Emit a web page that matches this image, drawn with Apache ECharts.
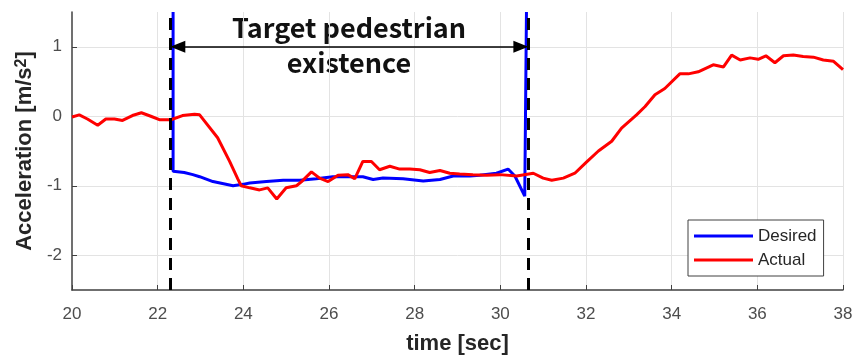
<!DOCTYPE html>
<html>
<head>
<meta charset="utf-8">
<script src="https://cdn.jsdelivr.net/npm/echarts@6/dist/echarts.min.js"></script>
<style>html,body{margin:0;padding:0;background:#fff;}#c{width:859px;height:361px;}</style>
</head>
<body>
<div id="c"></div>
<script>
// time [sec] / acceleration [m/s^2]
var actualT = [20.0,20.17,20.36,20.6,20.79,20.99,21.18,21.41,21.62,21.84,22.04,22.31,22.58,22.86,22.98,23.4,23.68,23.87,23.95,24.15,24.38,24.57,24.78,25.0,25.24,25.36,25.59,25.78,25.98,26.21,26.44,26.6,26.79,26.99,27.18,27.42,27.65,27.89,28.12,28.35,28.59,28.82,29.05,29.36,29.68,29.99,30.38,30.77,31.0,31.2,31.47,31.74,32.01,32.29,32.6,32.83,33.18,33.38,33.61,33.84,34.19,34.39,34.62,34.97,35.21,35.4,35.6,35.83,36.02,36.2,36.41,36.61,36.84,37.07,37.31,37.54,37.78,38.0];
var actualA = [-0.01,0.02,-0.04,-0.13,-0.04,-0.04,-0.06,0.01,0.05,0.0,-0.05,-0.05,0.01,0.03,0.02,-0.31,-0.65,-0.9,-1.0,-1.03,-1.06,-1.03,-1.19,-1.03,-1.0,-0.94,-0.8,-0.89,-0.94,-0.85,-0.84,-0.9,-0.65,-0.65,-0.77,-0.72,-0.76,-0.76,-0.77,-0.81,-0.78,-0.82,-0.83,-0.84,-0.85,-0.84,-0.86,-0.82,-0.89,-0.92,-0.89,-0.82,-0.66,-0.5,-0.36,-0.17,0.02,0.14,0.31,0.40,0.61,0.61,0.64,0.74,0.71,0.88,0.81,0.84,0.82,0.87,0.77,0.87,0.88,0.86,0.85,0.81,0.79,0.67];
var desiredT = [22.36,22.36,22.62,22.82,22.98,23.29,23.76,23.99,24.15,24.54,24.93,25.32,25.7,26.09,26.41,26.79,27.03,27.26,27.73,28.2,28.59,28.9,29.29,29.52,29.91,30.18,30.34,30.57,30.61,30.61];
var desiredA = [1.5,-0.79,-0.81,-0.84,-0.87,-0.94,-1.0,-0.98,-0.96,-0.94,-0.92,-0.92,-0.9,-0.87,-0.87,-0.87,-0.91,-0.89,-0.9,-0.93,-0.91,-0.86,-0.86,-0.85,-0.82,-0.76,-0.86,-1.15,-1.17,1.5];
var yTicks = [-2,-1,0,1];
var markStart = 22.3, markEnd = 30.65, arrowY = 1, arrowHalf = 0.17;

function pairs(a, b){ return a.map(function(v,i){ return [v, b[i]]; }); }

var chart = echarts.init(document.getElementById('c'));
var axisColor = '#404040';
var gridColor = '#e3e3e3';
var dashStyle = { color: '#000', width: 3, type: [12, 8] };
chart.setOption({
  animation: false,
  backgroundColor: '#fff',
  grid: { left: 72, right: 16, top: 12, bottom: 71 },
  xAxis: {
    type: 'value', min: 20, max: 38, interval: 2,
    name: 'time [sec]', nameLocation: 'middle', nameGap: 43,
    nameTextStyle: { fontFamily: 'Arial', fontWeight: 'bold', fontSize: 22, color: '#262626' },
    axisLine: { show: true, onZero: false, lineStyle: { color: axisColor, width: 1.5 } },
    axisTick: { show: true, inside: true, length: 5, lineStyle: { color: axisColor } },
    axisLabel: { margin: 16, fontFamily: 'Arial', fontSize: 17, color: '#4d4d4d' },
    splitLine: { show: true, showMinLine: false, showMaxLine: true, lineStyle: { color: gridColor, width: 1 } }
  },
  yAxis: {
    type: 'value', min: -2.5, max: 1.5,
    name: 'Acceleration [m/s{sup|2}]', nameLocation: 'middle', nameGap: 36, nameRotate: 90,
    nameTextStyle: { fontFamily: 'Arial', fontWeight: 'bold', fontSize: 22, color: '#262626',
      rich: { sup: { fontFamily: 'Arial', fontWeight: 'bold', fontSize: 16, color: '#262626', verticalAlign: 'top', padding: [0, 0, 6, 0] } } },
    axisLine: { show: true, onZero: false, lineStyle: { color: axisColor, width: 1.5 } },
    axisTick: { show: true, inside: true, length: 5, customValues: yTicks, lineStyle: { color: axisColor } },
    axisLabel: { margin: 10, fontFamily: 'Arial', fontSize: 17, color: '#4d4d4d', customValues: yTicks },
    splitLine: { show: false }
  },
  legend: {
    z: 20, zlevel: 0,
    data: [{ name: 'Desired', icon: 'rect' }, { name: 'Actual', icon: 'rect' }],
    orient: 'vertical', left: 688, top: 220,
    padding: [7.5, 7, 7.5, 6], itemGap: 7, itemWidth: 59, itemHeight: 3,
    backgroundColor: '#fff', borderColor: '#404040', borderWidth: 1, borderRadius: 0,
    textStyle: { fontFamily: 'Arial', fontSize: 17, color: '#262626', lineHeight: 17 }
  },
  graphic: [
    { type: 'text', x: 349, y: 28, style: { text: 'Target pedestrian', font: 'bold 27px "Noto Sans CJK KR"', fill: '#111', align: 'center', verticalAlign: 'middle' } },
    { type: 'text', x: 349, y: 63, style: { text: 'existence', font: 'bold 27px "Noto Sans CJK KR"', fill: '#111', align: 'center', verticalAlign: 'middle' } }
  ],
  series: [
    {
      name: 'ygrid', type: 'line', data: [], z: 0,
      markLine: {
        silent: true, animation: false, symbol: ['none', 'none'], z: 0,
        label: { show: false },
        lineStyle: { color: gridColor, width: 1, type: 'solid' },
        data: yTicks.map(function(v){ return { yAxis: v }; })
      }
    },
    {
      name: 'Actual', type: 'line', data: pairs(actualT, actualA),
      showSymbol: false, symbol: 'none', z: 3,
      lineStyle: { color: '#ff0000', width: 3 }, itemStyle: { color: '#ff0000' }
    },
    {
      name: 'Desired', type: 'line', data: pairs(desiredT, desiredA),
      showSymbol: false, symbol: 'none', z: 2,
      lineStyle: { color: '#0000ff', width: 3 }, itemStyle: { color: '#0000ff' }
    },
    {
      name: 'dashes', type: 'line', data: [], z: 4,
      markLine: {
        silent: true, animation: false, symbol: ['none', 'none'],
        label: { show: false },
        lineStyle: dashStyle,
        data: [ { xAxis: markStart }, { xAxis: markEnd } ]
      }
    },
    {
      name: 'arrow', type: 'line', data: [], z: 5,
      markLine: {
        silent: true, animation: false, symbol: ['triangle', 'triangle'], symbolSize: [12, 15],
        label: { show: false },
        lineStyle: { color: '#000', width: 1.5, type: 'solid' },
        itemStyle: { color: '#000' },
        data: [ [ { coord: [markStart + arrowHalf, arrowY] }, { coord: [markEnd - arrowHalf, arrowY] } ] ]
      }
    }
  ]
});
</script>
</body>
</html>
